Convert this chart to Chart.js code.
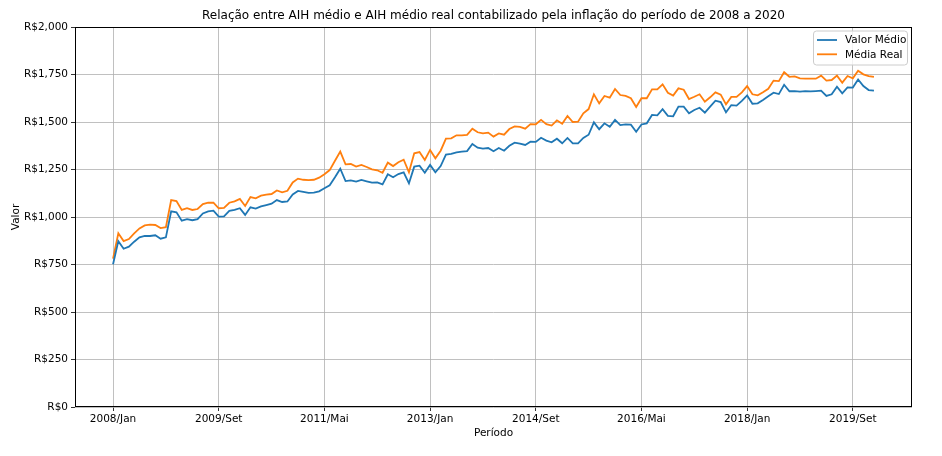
<!DOCTYPE html>
<html lang="pt-BR">
<head>
<meta charset="utf-8">
<title>AIH médio x AIH médio real</title>
<script src="https://cdn.jsdelivr.net/npm/chart.js@4.4.1/dist/chart.umd.min.js"></script>
<style>
  html, body { margin: 0; padding: 0; background: #ffffff; }
  #wrap { width: 942px; height: 456px; position: relative; }
</style>
</head>
<body>
<div id="wrap"><canvas id="chart"></canvas></div>
<script>
// --- DATA ---
const meses = ["Jan", "Fev", "Mar", "Abr", "Mai", "Jun", "Jul", "Ago", "Set", "Out", "Nov", "Dez"];
const anoInicial = 2008;
const tickMeses = [0, 20, 40, 60, 80, 100, 120, 140];
const yTicks = [0, 250, 500, 750, 1000, 1250, 1500, 1750, 2000];
const titulo = "Relação entre AIH médio e AIH médio real contabilizado pela inflação do período de 2008 a 2020";

// AIH médio (R$), 2008/Jan .. 2020/Jan
const valorMedio = [
  751, 873, 833, 844, 870, 893, 900, 900, 904, 886, 893, 1030,
  1025, 981, 989, 983, 989, 1019, 1030, 1033, 1002, 1003, 1032, 1037,
  1046, 1011, 1051, 1044, 1056, 1063, 1070, 1089, 1079, 1082, 1119, 1137,
  1132, 1127, 1128, 1135, 1151, 1167, 1209, 1254, 1189, 1193, 1186, 1195,
  1188, 1181, 1182, 1172, 1225, 1209, 1226, 1235, 1177, 1265, 1270, 1233,
  1274, 1235, 1268, 1328, 1332, 1340, 1344, 1347, 1384, 1365, 1360, 1363,
  1346, 1363, 1349, 1375, 1391, 1386, 1379, 1396, 1395, 1417, 1402, 1393,
  1412, 1388, 1416, 1388, 1388, 1416, 1433, 1498, 1462, 1493, 1475, 1511,
  1484, 1487, 1486, 1449, 1487, 1493, 1537, 1535, 1567, 1532, 1530, 1581,
  1581, 1546, 1563, 1575, 1549, 1581, 1612, 1605, 1551, 1589, 1586, 1611,
  1640, 1596, 1598, 1616, 1635, 1654, 1647, 1696, 1662, 1663, 1660, 1663,
  1661, 1663, 1665, 1637, 1646, 1686, 1651, 1682, 1681, 1724, 1689, 1668,
  1665
];

// AIH médio real, corrigido pela inflação (R$)
const mediaReal = [
  781, 914, 873, 884, 914, 940, 956, 960, 958, 942, 946, 1089,
  1084, 1037, 1046, 1037, 1042, 1068, 1075, 1075, 1046, 1048, 1075, 1082,
  1095, 1058, 1105, 1098, 1112, 1118, 1121, 1140, 1130, 1138, 1182, 1202,
  1196, 1194, 1196, 1207, 1225, 1247, 1296, 1344, 1277, 1279, 1265, 1274,
  1263, 1251, 1246, 1233, 1286, 1268, 1288, 1302, 1235, 1335, 1342, 1300,
  1353, 1309, 1349, 1412, 1414, 1430, 1430, 1432, 1465, 1446, 1440, 1444,
  1423, 1440, 1433, 1463, 1477, 1474, 1465, 1489, 1488, 1511, 1489, 1481,
  1509, 1491, 1532, 1500, 1502, 1546, 1568, 1646, 1598, 1637, 1628, 1674,
  1642, 1637, 1625, 1579, 1625, 1625, 1672, 1672, 1698, 1654, 1639, 1677,
  1670, 1621, 1633, 1646, 1607, 1630, 1656, 1644, 1593, 1632, 1632, 1656,
  1689, 1646, 1640, 1656, 1675, 1718, 1715, 1762, 1738, 1740, 1730, 1728,
  1728, 1728, 1744, 1718, 1721, 1744, 1707, 1742, 1730, 1770, 1751, 1742,
  1737
];

// --- HELPERS ---
const periodos = valorMedio.map((_, i) => `${anoInicial + Math.floor(i / 12)}/${meses[i % 12]}`);
const toPoints = (arr) => arr.map((v, i) => ({ x: i, y: v }));
const moeda = (v) => "R$" + Number(v).toLocaleString("en-US");

const FONT = "'DejaVu Sans', sans-serif";
const lastIdx = valorMedio.length - 1;
const margem = lastIdx * 0.05;

// title centred over the axes, frame (all four spines) and legend box top-right
const framePlugin = {
  id: "frame",
  afterDraw(chart) {
    const { ctx, chartArea: a } = chart;
    ctx.save();
    ctx.fillStyle = "#000000";
    ctx.font = "12px " + FONT;
    ctx.textAlign = "center";
    ctx.textBaseline = "middle";
    ctx.fillText(titulo, (a.left + a.right) / 2, a.top - 11);

    ctx.strokeStyle = "#000000";
    ctx.lineWidth = 1;
    ctx.strokeRect(Math.round(a.left) + 0.5, Math.round(a.top) + 0.5,
      Math.round(a.right - a.left) - 1, Math.round(a.bottom - a.top) - 1);

    // legend
    const boxW = 94, boxH = 34;
    const bx = a.right - 5 - boxW, by = a.top + 3.5;
    ctx.fillStyle = "rgba(255,255,255,0.8)";
    ctx.strokeStyle = "#cccccc";
    ctx.beginPath();
    ctx.roundRect(bx + 0.5, by + 0.5, boxW, boxH, 3);
    ctx.fill();
    ctx.stroke();
    ctx.font = "10.5px " + FONT;
    ctx.textAlign = "left";
    chart.data.datasets.forEach((ds, k) => {
      const ly = by + 9.5 + k * 14.3;
      ctx.strokeStyle = ds.borderColor;
      ctx.lineWidth = ds.borderWidth;
      ctx.beginPath();
      ctx.moveTo(bx + 4, ly);
      ctx.lineTo(bx + 24, ly);
      ctx.stroke();
      ctx.fillStyle = "#000000";
      ctx.fillText(ds.label, bx + 32, ly + 0.5);
    });
    ctx.restore();
  },
};

new Chart(document.getElementById("chart"), {
  type: "line",
  data: {
    datasets: [
      {
        label: "Valor Médio",
        data: toPoints(valorMedio),
        borderColor: "#1f77b4",
        borderWidth: 1.8,
        pointRadius: 0,
        tension: 0,
      },
      {
        label: "Média Real",
        data: toPoints(mediaReal),
        borderColor: "#ff7f0e",
        borderWidth: 1.8,
        pointRadius: 0,
        tension: 0,
      },
    ],
  },
  options: {
    responsive: true,
    maintainAspectRatio: false,
    animation: false,
    devicePixelRatio: 1,
    layout: { padding: { left: 0, right: 30, top: 27, bottom: 0 } },
    plugins: {
      legend: { display: false },
      tooltip: { enabled: false },
      title: { display: false },
    },
    scales: {
      x: {
        type: "linear",
        min: -margem,
        max: lastIdx + margem,
        afterBuildTicks: (scale) => {
          scale.ticks = tickMeses.map((v) => ({ value: v }));
        },
        afterFit: (scale) => { scale.height = 49; },
        ticks: {
          color: "#000000",
          font: { family: FONT, size: 10.5 },
          padding: 2,
          maxRotation: 0,
          autoSkip: false,
          callback: (v) => periodos[v],
        },
        grid: { color: "#b0b0b0", lineWidth: 0.8, tickColor: "#000000", tickLength: 4 },
        border: { display: false },
        title: {
          display: true,
          text: "Período",
          color: "#000000",
          font: { family: FONT, size: 10.5 },
          padding: { top: 0, bottom: 16.5 },
        },
      },
      y: {
        min: 0,
        max: 2000,
        afterBuildTicks: (scale) => {
          scale.ticks = yTicks.map((v) => ({ value: v }));
        },
        afterFit: (scale) => { scale.width = 75; },
        ticks: {
          color: "#000000",
          font: { family: FONT, size: 10.5 },
          padding: 3,
          callback: (v) => moeda(v),
        },
        grid: { color: "#b0b0b0", lineWidth: 0.8, tickColor: "#000000", tickLength: 4 },
        border: { display: false },
        title: {
          display: true,
          text: "Valor",
          color: "#000000",
          font: { family: FONT, size: 10.5 },
          padding: { top: 9.5, bottom: 0 },
        },
      },
    },
  },
  plugins: [framePlugin],
});
</script>
</body>
</html>
